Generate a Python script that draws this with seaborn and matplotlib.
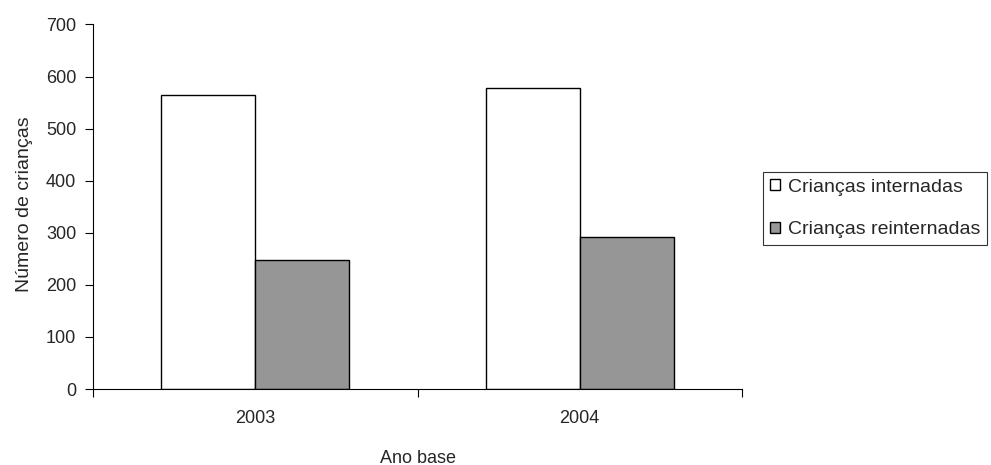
import matplotlib
matplotlib.use("Agg")
import matplotlib.pyplot as plt
import seaborn as sns
import pandas as pd
from matplotlib.ticker import FixedLocator

years = ["2003", "2004"]
series_names = ["Crianças internadas", "Crianças reinternadas"]
internadas = [564, 578]
reinternadas = [248, 292]
yticks = [0, 100, 200, 300, 400, 500, 600, 700]

df = pd.DataFrame({
    "Ano": years * 2,
    "Série": [series_names[0]] * len(years) + [series_names[1]] * len(years),
    "Valor": internadas + reinternadas,
})

sns.set_theme(style="white")
plt.rcParams["font.family"] = ["Liberation Sans", "DejaVu Sans"]

FS = 13

fig = plt.figure(figsize=(9.91, 4.65), dpi=100)
ax = fig.add_axes([93 / 991, 1 - 389 / 465, (742 - 93) / 991, (389 - 24.5) / 465])

sns.barplot(data=df, x="Ano", y="Valor", hue="Série",
            palette=["#ffffff", "#969696"], width=0.58,
            edgecolor="black", linewidth=1.0, saturation=1, ax=ax)

ax.set_xlim(-0.5, 1.5)
ax.set_ylim(0, 700)
ax.set_yticks(yticks)
ax.tick_params(axis="y", which="major", direction="out", length=6, width=0.8,
               color="black", labelsize=FS, left=True, pad=6)
ax.tick_params(axis="x", which="major", length=0, labelsize=FS, pad=15)
ax.xaxis.set_minor_locator(FixedLocator([-0.5, 0.5, 1.5]))
ax.tick_params(axis="x", which="minor", direction="out", length=6, width=0.8,
               color="black", bottom=True)

for side in ["top", "right"]:
    ax.spines[side].set_visible(False)
for side in ["left", "bottom"]:
    ax.spines[side].set_color("black")
    ax.spines[side].set_linewidth(0.8)

ax.set_xlabel("Ano base", fontsize=FS)
ax.xaxis.set_label_coords(0.5, -0.166)
ax.set_ylabel("Número de crianças", fontsize=14)
ax.yaxis.set_label_coords(-0.092, 0.508)

handles, labels = ax.get_legend_handles_labels()
ax.legend(handles, labels, loc="upper left", bbox_to_anchor=(763 / 991, 1 - 172 / 465),
          bbox_transform=fig.transFigure, frameon=True, fancybox=False,
          edgecolor="black", fontsize=14, handlelength=0.5, handleheight=0.5,
          handletextpad=0.45, borderpad=0.35, labelspacing=1.3, borderaxespad=0)
leg = ax.get_legend()
leg.get_frame().set_linewidth(0.8)

fig.savefig("out.png", dpi=100, facecolor="white")
